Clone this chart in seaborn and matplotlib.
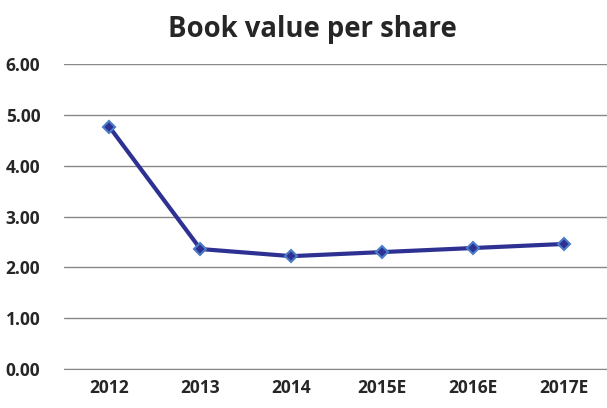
import matplotlib
matplotlib.use("Agg")
import matplotlib.pyplot as plt
import seaborn as sns
import pandas as pd

years = ["2012", "2013", "2014", "2015E", "2016E", "2017E"]
book_value = [4.76, 2.36, 2.22, 2.30, 2.38, 2.46]

df = pd.DataFrame({"Year": years, "Value": book_value})

sns.set_style("white")
plt.rcParams["font.family"] = ["Open Sans", "DejaVu Sans"]

fig = plt.figure(figsize=(6.07, 4.08), dpi=100)
ax = fig.add_axes([64 / 607, 39 / 408, 543 / 607, 305 / 408])

sns.lineplot(
    data=df, x="Year", y="Value", ax=ax, sort=False,
    color="#2E3192", linewidth=3, marker="D", markersize=6,
    markerfacecolor="#2E3192", markeredgecolor="#4A7CC9", markeredgewidth=1.5,
)

ax.set_ylim(0, 6)
ax.set_yticks([0, 1, 2, 3, 4, 5, 6])
ax.set_yticklabels([f"{v:.2f}" for v in range(7)])
ax.set_xlim(-0.5, 5.47)
ax.yaxis.grid(True, color="#888888", linewidth=1)
ax.set_axisbelow(True)
for s in ax.spines.values():
    s.set_visible(False)
ax.spines["bottom"].set_visible(True)
ax.spines["bottom"].set_color("#888888")
ax.tick_params(axis="both", length=0, labelsize=12.5)
ax.tick_params(axis="y", pad=17)
ax.tick_params(axis="x", pad=7)
for lab in ax.get_xticklabels() + ax.get_yticklabels():
    lab.set_fontweight("bold")
ax.set_xlabel("")
ax.set_ylabel("")

fig.text(0.515, 0.928, "Book value per share", ha="center", va="center",
         fontsize=19.8, fontweight="bold")

fig.savefig("out.png", dpi=100)
